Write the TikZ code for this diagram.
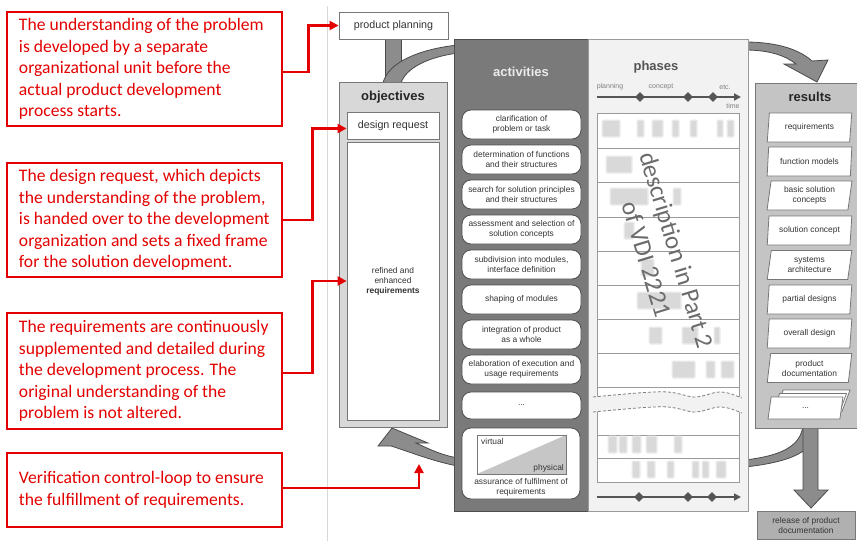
\documentclass[tikz,border=0pt]{standalone}
\usepackage{fontspec}
\setmainfont{Liberation Sans}
\newfontfamily\callfont{Carlito}
\usetikzlibrary{arrows.meta,shapes.geometric}

\definecolor{redline}{RGB}{228,0,0}
\definecolor{txtgray}{HTML}{333333}
\definecolor{actfill}{HTML}{7A7A7A}
\definecolor{actborder}{HTML}{4E4E4E}
\definecolor{phfill}{HTML}{F2F2F2}
\definecolor{phborder}{HTML}{9A9A9A}
\definecolor{objfill}{HTML}{D8D8D8}
\definecolor{resfill}{HTML}{C4C4C4}
\definecolor{boxborder}{HTML}{777777}
\definecolor{bandfill}{HTML}{8C8C8C}
\definecolor{bandborder}{HTML}{4A4A4A}
\definecolor{blobgray}{HTML}{D9D9D9}
\definecolor{blobsoft}{HTML}{E8E8E8}
\definecolor{tlgray}{HTML}{555555}

% note text: a fixed-width ragged block, nudged towards the left frame edge
\newcommand\notetext[1]{\hspace*{7pt}\parbox[c]{258pt}{\raggedright\hyphenpenalty=10000 #1}}

\begin{document}
\begin{tikzpicture}[x=1pt,y=-1pt,
  txt/.style={text=txtgray, font=\fontsize{8.4}{10}\selectfont, align=center},
  actbox/.style={txt, draw=actborder, fill=white, rounded corners=9pt,
    minimum width=119pt, minimum height=29pt, inner sep=1pt, line width=0.8pt},
  resbox/.style={txt, draw=boxborder, fill=white, trapezium,
    trapezium left angle=82, trapezium right angle=98, trapezium stretches=true,
    minimum width=85pt, minimum height=29pt, inner sep=1pt, line width=0.8pt},
  plainbox/.style={txt, draw=boxborder, fill=white, line width=0.8pt, inner sep=1pt},
  column/.style={anchor=north west, line width=0.8pt, inner sep=0pt},
  callout/.style={draw=redline, line width=2.5pt, text=redline,
    font=\callfont\fontsize{17.6}{21.5}\selectfont,
    minimum width=275pt, inner sep=0pt},
  redarrow/.style={draw=redline, line width=2.5pt, -{Triangle[length=9pt,width=9pt]}},
  band/.style={fill=bandfill, draw=bandborder, line width=0.8pt},
  coltitle/.style={font=\bfseries\fontsize{13}{15}\selectfont},
  mile/.style={diamond, fill=tlgray, inner sep=0pt, minimum size=10pt},
  tline/.style={draw=tlgray, line width=2pt, -{Triangle[length=7pt,width=7pt]}},
  tlabel/.style={text=gray, font=\fontsize{7}{8}\selectfont},
  rowline/.style={draw=phborder, line width=0.7pt},
  wave/.style={draw=gray, dash pattern=on 3pt off 2pt, line width=0.8pt},
]
\useasboundingbox (0,0) rectangle (857,541);
\clip (0,0) rectangle (857,541);
\fill[white] (0,0) rectangle (857,541);

% separator between notes and process model
\draw[gray!30, line width=0.8pt] (327,6) -- (327,541);

% ---------- process loop (behind the columns) ----------
% stem from product planning into objectives
\draw[band] (385,39) rectangle (401,84);
% loop arriving at objectives from above
\draw[band] (458,45) .. controls (420,49) and (388,62) .. (383,83) -- (401,83)
  .. controls (406,68) and (428,57) .. (458,53) -- cycle;
% loop into results
\draw[band] (745,42) .. controls (778,42) and (800,50) .. (812,61) -- (828,60)
  -- (817,82) -- (784,64) -- (796,64) .. controls (786,56) and (770,50) .. (745,50) -- cycle;
% loop leaving results downwards
\draw[band] (818,426) .. controls (816,452) and (790,462) .. (745,467) -- (745,460)
  .. controls (778,456) and (800,448) .. (803,426) -- cycle;
% release arrow
\draw[band] (803,426) -- (803,490) -- (794,490) -- (811,508) -- (828,490)
  -- (818,490) -- (818,426) -- cycle;
% loop returning to objectives
\draw[band] (458,458) .. controls (440,455) and (425,447) .. (416,443) -- (428,443)
  -- (392,428) -- (378,446) -- (391,446) .. controls (410,452) and (435,462) .. (458,466) -- cycle;

% ---------- columns ----------
\node[column, fill=actfill, draw=actborder, minimum width=134pt, minimum height=472pt] (act) at (454,39) {};
\node[column, fill=phfill, draw=phborder, minimum width=160pt, minimum height=472pt] (ph) at (588,39) {};
\node[column, fill=objfill, draw=boxborder, minimum width=108pt, minimum height=345pt] (obj) at (339,82) {};
\node[column, fill=resfill, draw=boxborder, minimum width=110pt, minimum height=345pt] (res) at (755,83) {};

\node[coltitle, text=white!92!black] at (521,72) {activities};
\node[coltitle, text=tlgray] at (656,67) {phases};
\node[coltitle, text=black!85] at (393,97) {objectives};
\node[coltitle, text=black!85] at (810,97) {results};

% ---------- product planning / release ----------
\node[plainbox, font=\fontsize{10.7}{12}\selectfont, minimum width=109pt, minimum height=27pt] (pp) at (393.5,25.5) {product planning};
\node[txt, draw=boxborder, fill=resfill!90!black, line width=0.8pt, minimum width=98pt, minimum height=28pt, inner sep=1pt] (rel) at (806,525) {release of product\\documentation};

% ---------- objectives ----------
\node[plainbox, font=\fontsize{10.7}{12}\selectfont, minimum width=92pt, minimum height=27pt] (dr) at (393,125.5) {design request};
\node[plainbox, minimum width=92pt, minimum height=278pt] (req) at (393,281) {refined and\\enhanced\\\textbf{requirements}};

% ---------- activities ----------
\node[actbox] (a1) at (521.5,124.5) {clarification of\\problem or task};
\node[actbox] (a2) at (521.5,159.5) {determination of functions\\and their structures};
\node[actbox] (a3) at (521.5,194.5) {search for solution principles\\and their structures};
\node[actbox] (a4) at (521.5,229.5) {assessment and selection of\\solution concepts};
\node[actbox] (a5) at (521.5,264.5) {subdivision into modules,\\interface definition};
\node[actbox] (a6) at (521.5,299.5) {shaping of modules};
\node[actbox] (a7) at (521.5,334.5) {integration of product\\as a whole};
\node[actbox] (a8) at (521.5,369.5) {elaboration of execution and\\usage requirements};
\node[actbox, minimum height=27pt] (a9) at (521.5,405.5) {...};
\node[actbox, minimum width=118pt, minimum height=71pt] (a10) at (521,463.5) {};
% virtual / physical ratio
\draw[draw=boxborder, fill=white, line width=0.8pt] (477,435) rectangle (566,474);
\fill[gray!45] (477,474) -- (566,435) -- (566,474) -- cycle;
\draw[draw=boxborder, line width=0.8pt] (477,435) rectangle (566,474);
\node[txt, anchor=west, inner sep=0pt] (virt) at (481,441.5) {virtual};
\node[txt, anchor=east, inner sep=0pt] (phys) at (564,468) {physical};
\node[txt, inner sep=0pt] (assur) at (521,487) {assurance of fulfilment of\\requirements};

% ---------- phases ----------
\draw[tline] (597,97) -- (741,97);
\node[mile] (m1) at (640,97) {};
\node[mile] (m2) at (688,97) {};
\node[mile] (m3) at (713,97) {};
\node[tlabel] at (610,87) {planning};
\node[tlabel] at (661,87) {concept};
\node[tlabel] at (725,87) {etc.};
\node[tlabel] at (733,106) {time};

\draw[rowline, fill=white] (597,113) rectangle (739,482);
\foreach \y in {148,182,217,251,285,319,353,387,435,458}
  \draw[rowline] (597,\y) -- (739,\y);

% break in the row list
\fill[phfill] (593,397) .. controls (625,394) and (655,391) .. (668,392)
  .. controls (680,393) and (688,397) .. (694,397) .. controls (704,397) and (712,392) .. (720,392)
  .. controls (729,392) and (736,396) .. (742,398) -- (742,413)
  .. controls (736,411) and (729,407) .. (720,407) .. controls (712,407) and (704,412) .. (694,412)
  .. controls (688,412) and (680,408) .. (668,407) .. controls (655,406) and (625,409) .. (593,412) -- cycle;
\foreach \d in {0,15}
  \draw[wave, shift={(0,\d)}] (593,397) .. controls (625,394) and (655,391) .. (668,392)
    .. controls (680,393) and (688,397) .. (694,397) .. controls (704,397) and (712,392) .. (720,392)
    .. controls (729,392) and (736,396) .. (742,398);

% phase entries per activity (soft-edged marks)
\foreach \xa/\xb/\ya in {603/619/121, 638/643/121, 653/662/121, 673/678/121, 691/696/121, 718/722/121, 728/733/121,
    607/631/157, 611/647/189, 674/680/189, 625/633/223, 642/653/260, 638/680/293,
    650/661/328, 683/697/328, 715/719/328, 673/694/362, 707/714/362, 722/733/362,
    609/616/437, 620/626/437, 633/640/437, 647/656/437, 675/681/437,
    633/639/462, 648/654/462, 668/673/462, 693/698/462, 703/708/462, 717/725/462} {
  \fill[blobsoft, rounded corners=1.5pt] (\xa-1.5,\ya-1.5) rectangle (\xb+1.5,\ya+16.5);
  \fill[blobgray, rounded corners=1pt] (\xa,\ya) rectangle (\xb,\ya+15);
}

\node[text=black!58, font=\callfont\fontsize{25}{31.6}\selectfont, align=center, rotate=-73, inner sep=0pt] (vdi) at (662,254.5) {description in Part 2\\of VDI 2221};

\draw[tline] (597,497) -- (741,497);
\node[mile] (n1) at (639,497) {};
\node[mile] (n2) at (688,497) {};
\node[mile] (n3) at (712,497) {};

% ---------- results ----------
\node[resbox] (r1) at (809.5,127.5) {requirements};
\node[resbox] (r2) at (809.5,161.5) {function models};
\node[resbox] (r3) at (809.5,195.5) {basic solution\\concepts};
\node[resbox] (r4) at (809.5,230.5) {solution concept};
\node[resbox] (r5) at (809.5,265) {systems\\architecture};
\node[resbox] (r6) at (809.5,299.5) {partial designs};
\node[resbox] (r7) at (809.5,333.5) {overall design};
\node[resbox] (r8) at (809.5,368) {product\\documentation};
\node[resbox, minimum width=75pt, minimum height=22pt] (r9c) at (812.5,401) {};
\node[resbox, minimum width=75pt, minimum height=22pt] (r9b) at (809,404.5) {};
\node[resbox, minimum width=75pt, minimum height=22pt] (r9) at (805.5,408) {...};

% ---------- explanatory notes ----------
\node[callout, minimum height=114pt] (c1) at (144.5,69) {\notetext{The understanding of the problem\\is developed by a separate\\organizational unit before the\\actual product development\\process starts.}};
\node[callout, minimum height=114pt] (c2) at (144.5,220) {\notetext{The design request, which depicts\\the understanding of the problem,\\is handed over to the development\\organization and sets a fixed frame\\for the solution development.}};
\node[callout, minimum height=116pt] (c3) at (144.5,371) {\notetext{The requirements are continuously\\supplemented and detailed during\\the development process. The\\original understanding of the\\problem is not altered.}};
\node[callout, minimum height=74pt] (c4) at (144.5,490) {\notetext{Verification control-loop to ensure\\the fulfillment of requirements.}};

\coordinate (loopin) at (419,464);
\draw[redarrow] ([yshift=-3pt]c1.east) -- ++(25,0) |- (pp.west);
\draw[redarrow] (c2.east) -- ++(29,0) |- ([yshift=-3pt]dr.west);
\draw[redarrow] ([yshift=-2pt]c3.east) -- ++(29,0) |- (req.west);
\draw[redarrow] ([yshift=2pt]c4.east) -| (loopin);
\end{tikzpicture}
\end{document}
